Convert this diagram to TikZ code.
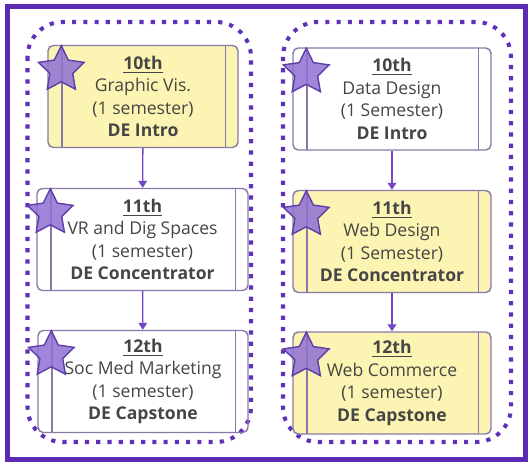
\documentclass[tikz,border=0pt]{standalone}
\usepackage{fontspec}
\setmainfont{Open Sans}
\usepackage{xcolor}
\usetikzlibrary{arrows.meta, positioning, shapes.geometric}

\definecolor{framepurple}{HTML}{5B2BB3}
\definecolor{dotpurple}{HTML}{5F30B8}
\definecolor{edgepurple}{HTML}{8A78A8}
\definecolor{starfill}{HTML}{9170D4}
\definecolor{stardraw}{HTML}{5E3FA8}
\definecolor{arrowpurple}{HTML}{7446C4}
\definecolor{boxyellow}{HTML}{FCF4B2}
\definecolor{txtgray}{HTML}{454545}

\tikzset{
	course/.style={draw=edgepurple, line width=0.8pt, rounded corners=3pt,
		minimum width=#1, minimum height=2.04cm, inner sep=0pt,
		align=center, text=txtgray, font=\fontsize{10}{12.8}\selectfont,
		path picture={
			\draw[edgepurple, line width=0.8pt]
			([xshift=0.28cm]path picture bounding box.north west) --
			([xshift=0.28cm]path picture bounding box.south west);
			\draw[edgepurple, line width=0.8pt]
			([xshift=-0.25cm]path picture bounding box.north east) --
			([xshift=-0.25cm]path picture bounding box.south east);
		}},
	starmark/.style={star, star points=5, star point ratio=2,
		minimum size=0.96cm, inner sep=0pt, outer sep=0pt,
		fill=starfill, fill opacity=0.85, draw=stardraw, line width=0.8pt,
		anchor=north},
	flow/.style={arrowpurple, line width=0.8pt,
		-{Triangle[width=5pt,length=4pt]}},
	dotframe/.style={dotpurple, line width=2.3pt, rounded corners=0.7cm,
		dash pattern=on 2.4pt off 4pt}
}

\begin{document}
\begin{tikzpicture}[x=0.02cm, y=-0.02cm]
	
	\useasboundingbox (0,0) rectangle (529,466);
	
	% Outer frame
	\node[draw=framepurple, line width=2.8pt, inner sep=0pt,
	minimum width=10.37cm, minimum height=9.07cm] (frame) at (266.75,233.25) {};
	\coordinate (feed) at (267,-6);
	\draw[flow, line width=1.2pt, shorten >=2.5pt] (feed) -- (frame.north);
	
	% Dotted groups
	\draw[dotframe] (27.5,22) rectangle (251,442);
	\draw[dotframe] (283,22) rectangle (511,442);
	
	% Left track
	\node[course=3.8cm, fill=boxyellow] (gv) at (143,96.5)
	{\underline{\textbf{10th}}\\Graphic Vis.\\(1 semester)\\\textbf{DE Intro}};
	\node[course=4.22cm] (vr) at (142.5,239.5)
	{\underline{\textbf{11th}}\\VR and Dig Spaces\\(1 semester)\\\textbf{DE Concentrator}};
	\node[course=4.2cm] (sm) at (143,381.5)
	{\underline{\textbf{12th}}\\Soc Med Marketing\\(1 semester)\\\textbf{DE Capstone}};
	
	% Right track
	\node[course=3.96cm] (dd) at (392,99)
	{\underline{\textbf{10th}}\\Data Design\\(1 Semester)\\\textbf{DE Intro}};
	\node[course=3.96cm, fill=boxyellow] (wd) at (392,241.5)
	{\underline{\textbf{11th}}\\Web Design\\(1 Semester)\\\textbf{DE Concentrator}};
	\node[course=3.96cm, fill=boxyellow] (wc) at (392,383)
	{\underline{\textbf{12th}}\\Web Commerce\\(1 semester)\\\textbf{DE Capstone}};
	
	% Stars
	\foreach \c in {gv,vr,sm,dd,wd,wc}
	\node[starmark] (star-\c) at ([xshift=0.28cm,yshift=-0.02cm]\c.north west) {};
	
	% Arrows
	\draw[flow] (gv) -- (vr);
	\draw[flow] (vr) -- (sm);
	\draw[flow] (dd) -- (wd);
	\draw[flow] (wd) -- (wc);
	
\end{tikzpicture}
\end{document}
